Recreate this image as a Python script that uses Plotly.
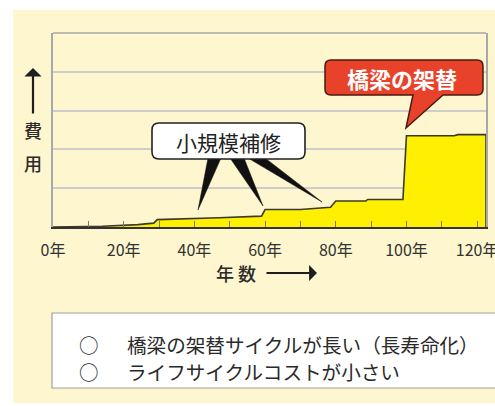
import plotly.graph_objects as go

# ---- data ----
years = [0, 14, 24, 28.5, 29.5, 39, 39.5, 47, 59, 60, 70, 75, 78.5, 80, 88.5, 89, 99, 100, 113.5, 114.5, 122.5]
cost = [0, 0.02, 0.06, 0.10, 0.19, 0.21, 0.23, 0.24, 0.28, 0.45, 0.45, 0.49, 0.51, 0.67, 0.67, 0.71, 0.71, 2.35, 2.35, 2.38, 2.38]
tick_years = [0, 20, 40, 60, 80, 100, 120]
tick_labels = ["0年", "20年", "40年", "60年", "80年", "100年", "120年"]

FONT = "Noto Sans CJK JP"
W, H = 495, 406
L, R, T, B = 53, 9, 33, 179
PW, PH = W - L - R, H - T - B
XMAX, YMAX = 122.5, 5


def dx(px):
    return (px - L) / PW * XMAX


def dy(py):
    return (T + PH - py) / PH * YMAX


def pxp(px):
    return (px - L) / PW


def pyp(py):
    return (T + PH - py) / PH


def rbox(x0, y0, x1, y1, r, tail=None):
    pts = []
    def P(cmd, *xy):
        s = cmd
        for i in range(0, len(xy), 2):
            s += f" {dx(xy[i]):.4f},{dy(xy[i+1]):.4f}"
        pts.append(s)
    P("M", x0 + r, y0)
    P("L", x1 - r, y0)
    P("Q", x1, y0, x1, y0 + r)
    P("L", x1, y1 - r)
    P("Q", x1, y1, x1 - r, y1)
    if tail:
        (tr, tx, ty, tl) = tail
        P("L", tr, y1)
        P("L", tx, ty)
        P("L", tl, y1)
    P("L", x0 + r, y1)
    P("Q", x0, y1, x0, y1 - r)
    P("L", x0, y0 + r)
    P("Q", x0, y0, x0 + r, y0)
    return " ".join(pts) + " Z"


def tri(a, b, c):
    return (f"M {dx(a[0]):.4f},{dy(a[1]):.4f} L {dx(b[0]):.4f},{dy(b[1]):.4f} "
            f"L {dx(c[0]):.4f},{dy(c[1]):.4f} Z")


xs = years + [years[-1]]
ys = cost + [0]

fig = go.Figure()
fig.add_trace(go.Scatter(
    x=xs, y=ys, mode="lines", fill="tozeroy",
    fillcolor="#FFEF00", line=dict(color="#3a3a2a", width=1.6),
    hoverinfo="skip", showlegend=False,
))

shapes = []
# cream background
shapes.append(dict(type="rect", xref="paper", yref="paper", layer="below",
                   x0=pxp(13), x1=pxp(520), y0=pyp(403), y1=pyp(10),
                   fillcolor="#FEF6CE", line=dict(width=0)))
# top frame line
shapes.append(dict(type="line", xref="paper", yref="paper", x0=0, x1=1, y0=1, y1=1,
                   line=dict(color="#a8a8a8", width=1.5)))
# spikes of small repair callout
for a, b, c in [((208, 158), (221, 158), (198, 210)),
                ((230, 158), (244, 158), (263, 206)),
                ((248, 158), (265, 158), (322, 202))]:
    shapes.append(dict(type="path", xref="x", yref="y", path=tri(a, b, c),
                       fillcolor="#111111", line=dict(color="#111111", width=0.5)))
# small repair box
shapes.append(dict(type="path", xref="x", yref="y", path=rbox(152, 123, 305, 159, 7),
                   fillcolor="white", line=dict(color="#222222", width=1.6)))
# red callout
shapes.append(dict(type="path", xref="x", yref="y",
                   path=rbox(325, 60, 483, 95, 6, tail=(443, 406, 128, 413)),
                   fillcolor="#E8432A", line=dict(color="#4a1a10", width=1.5)))
# bottom info box
shapes.append(dict(type="rect", xref="paper", yref="paper",
                   x0=pxp(52), x1=pxp(520), y0=pyp(388), y1=pyp(313),
                   fillcolor="white", line=dict(color="#a0a0a0", width=1.2)))

TXT = "#2a2a2a"
ann = []


def text(px, py, s, size, color=TXT, xanchor="center", weight="normal"):
    ann.append(dict(xref="paper", yref="paper", x=pxp(px), y=pyp(py), text=s,
                    xanchor=xanchor, yanchor="middle", showarrow=False,
                    font=dict(family=FONT, size=size, color=color, weight=weight)))


text(228, 142, "小規模補修", 21, "#222")
text(402, 78, "橋梁の架替", 22, "white", weight=600)
# y title
text(33, 130, "費", 18, weight=500)
text(33, 163, "用", 18, weight=500)
ann.append(dict(xref="paper", yref="paper", x=pxp(33), y=pyp(68), text="",
                showarrow=True, ax=0, ay=47, arrowhead=1, arrowsize=1.3,
                arrowwidth=2.2, arrowcolor="#1e1e1e"))
# x title
text(236, 273, "年 数", 18, weight=500)
ann.append(dict(xref="paper", yref="paper", x=pxp(317), y=pyp(273), text="",
                showarrow=True, ax=-52, ay=0, arrowhead=1, arrowsize=1.2,
                arrowwidth=2.2, arrowcolor="#1e1e1e"))
# info box lines
for yy, line in [(344, "橋梁の架替サイクルが長い（長寿命化）"), (371, "ライフサイクルコストが小さい")]:
    text(89, yy, "○", 19.5)
    text(125, yy, line, 19.6, xanchor="left")

fig.update_layout(
    width=W, height=H,
    margin=dict(l=L, r=R, t=T, b=B, pad=0, autoexpand=False),
    paper_bgcolor="white", plot_bgcolor="white",
    shapes=shapes, annotations=ann,
    xaxis=dict(range=[0, XMAX], tickvals=tick_years, ticktext=tick_labels,
               ticks="inside", ticklen=6, tickcolor="#777", tickwidth=1,
               minor=dict(dtick=10, tick0=0, ticks="inside", ticklen=6, tickcolor="#777"),
               showgrid=False, zeroline=False, showline=True, linecolor="#333", linewidth=2,
               tickfont=dict(family=FONT, size=16, color="#333"), ticklabelstandoff=8,
               ticklabeloverflow="allow", automargin=False, fixedrange=True),
    yaxis=dict(range=[0, YMAX], dtick=1, showticklabels=False, ticks="",
               showgrid=True, gridcolor="#cdcdcd", gridwidth=1.5, zeroline=False,
               showline=True, linecolor="#a8a8a8", linewidth=1.5, mirror=True,
               automargin=False, fixedrange=True),
    showlegend=False,
)

fig.write_html("out.html", config={"displayModeBar": False},
               post_script="document.body.style.margin='0px';")
